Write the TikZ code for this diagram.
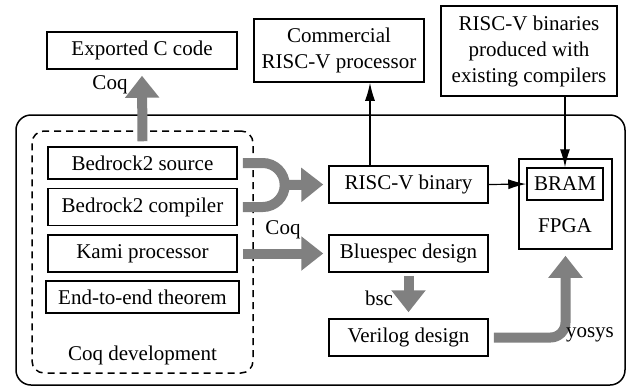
\documentclass[tikz,border=0pt]{standalone}
\usepackage{fontspec}
\setmainfont{Liberation Serif}
\usetikzlibrary{arrows.meta,calc}
\tikzset{
  sz/.style 2 args={minimum width=#1*0.5pt,minimum height=#2*0.5pt},
  box/.style={draw,line width=0.75pt,inner sep=0pt,align=center},
  garr/.style={draw=black!50,line width=5pt,-{Triangle[length=11pt,width=16.5pt]}},
  gline/.style={draw=black!50,line width=5pt},
  barr/.style={line width=0.6pt,-{Latex[length=9pt,width=5pt]}},
  lbl/.style={inner sep=0pt}
}
\begin{document}
\begin{tikzpicture}[x=0.5pt,y=-0.5pt,font=\fontsize{10.5}{13}\selectfont]
\useasboundingbox (0,0) rectangle (628,388);
% containers
\node[draw,line width=0.75pt,rounded corners=7.5pt,sz={609}{270}] (sys) at (320.5,250) {};
\node[draw,line width=0.75pt,dash pattern=on 3.5pt off 2.5pt,rounded corners=6pt,sz={221}{242}] (coq) at (142.5,252) {};
% boxes
\node[box,sz={190}{37}] (exp) at (142,50.5) {Exported C code};
\node[box,sz={170}{63}] (comm) at (339,50.5) {Commercial\\RISC-V processor};
\node[box,sz={176}{90}] (bins) at (529,51) {RISC-V binaries\\produced with\\existing compilers};
\node[box,sz={189}{32}] (src) at (142.5,163) {Bedrock2 source};
\node[box,sz={189}{37}] (comp) at (142.5,207) {Bedrock2 compiler};
\node[box,sz={189}{37}] (kami) at (142.5,253.5) {Kami processor};
\node[box,sz={193}{32}] (e2e) at (142.5,297) {End-to-end theorem};
\node[lbl] (coqlbl) at (142.5,355) {Coq development};
\node[box,sz={159}{37}] (rvbin) at (408.5,184.5) {RISC-V binary};
\node[box,sz={159}{37}] (blue) at (408.5,253.5) {Bluespec design};
\node[box,sz={159}{37}] (veri) at (408.5,337.5) {Verilog design};
\node[box,sz={93}{90}] (fpga) at (565.5,204) {};
\node[box,sz={76}{32}] (bram) at (565,184) {BRAM};
\node[lbl] (fpgalbl) at (565,226) {FPGA};
% black arrows
\coordinate (c1) at (370,0);
\draw[barr] (rvbin.north -| c1) -- (comm.south -| c1);
\draw[barr] (bins.south -| bram.north) -- (bram.north);
\draw[barr] (rvbin.east) -- (bram.west);
% gray arrows
\draw[garr] ($(src.north)+(0,-5)$) -- ($(exp.south)+(0,6)$);
\node[lbl] (coq1) at (110,85) {Coq};
\coordinate (m) at (284,185);
\draw[gline] ($(src.east)+(5,0)$) -- ++(20,0) arc[start angle=-90,end angle=90,radius=22] -- ($(comp.east)+(5,0)$);
\draw[garr] ($(m)+(-4,0)$) -- ($(rvbin.west)+(-5,0)$);
\draw[garr] ($(kami.east)+(5,0)$) -- ($(blue.west)+(-5,0)$);
\node[lbl] (coq2) at (283,230) {Coq};
\draw[garr] ($(blue.south)+(0,3)$) -- ($(veri.north)+(0,-6)$);
\node[lbl] (bsc) at (379,298) {bsc};
\draw[garr,rounded corners=7.5pt] ($(veri.east)+(5,0)$) -| ($(fpga.south)+(0,6)$);
\node[lbl] (yosys) at (590,335) {yosys};
\end{tikzpicture}
\end{document}
